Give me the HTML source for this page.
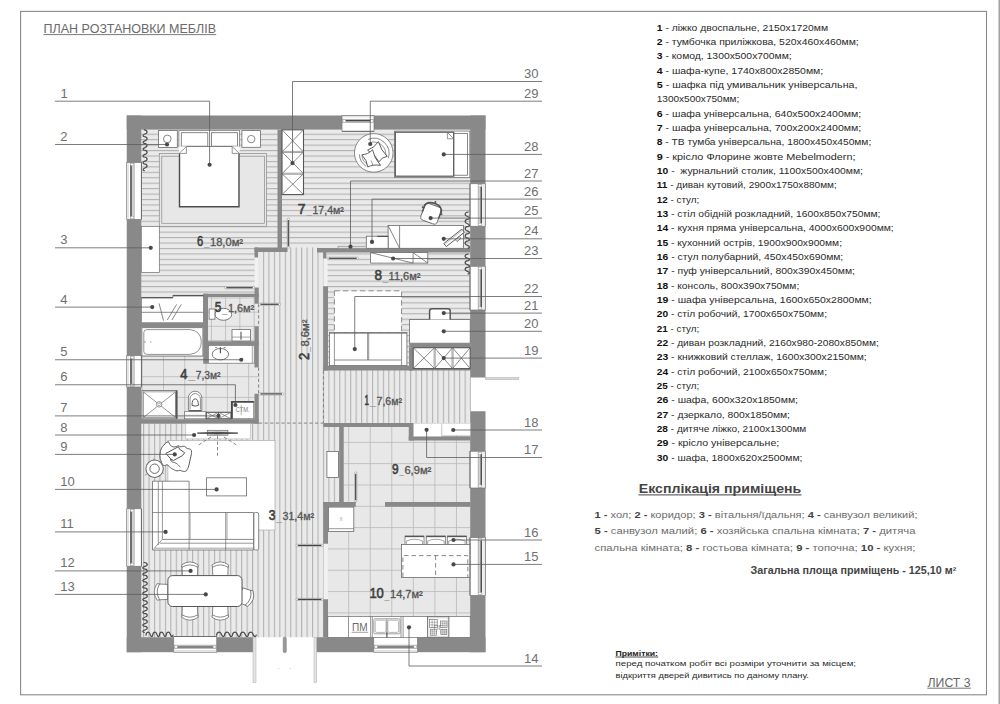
<!DOCTYPE html>
<html lang="uk"><head><meta charset="utf-8"><title>План розтановки меблів</title>
<style>
html,body{margin:0;padding:0;background:#fff;}
body{width:1000px;height:704px;overflow:hidden;position:relative;}
svg{position:absolute;left:0;top:0;display:block;}
svg text{font-family:"Liberation Sans","DejaVu Sans",sans-serif;}
</style></head><body>
<svg width="1000" height="704" viewBox="0 0 1000 704">
<rect width="1000" height="704" fill="#fff"/>
<rect x="998.5" y="0" width="1.5" height="704" fill="#a2a2a2"/>
<rect x="20.6" y="11.4" width="965.9" height="683.4" fill="none" stroke="#8a8a8a" stroke-width="1.1"/>
<defs>
<pattern id="hh" patternUnits="userSpaceOnUse" width="20" height="5.44" patternTransform="translate(0 133.7)"><rect width="20" height="5.44" fill="#eaeaea"/><rect y="0" width="20" height="1.1" fill="#b2b2b2"/></pattern>
<pattern id="hv" patternUnits="userSpaceOnUse" width="5.45" height="20" patternTransform="translate(257.5 0)"><rect width="5.45" height="20" fill="#eaeaea"/><rect x="0" width="1.1" height="20" fill="#b2b2b2"/></pattern>
<pattern id="tk" patternUnits="userSpaceOnUse" width="21.55" height="21.32" patternTransform="translate(348.2 441.85)"><rect width="21.55" height="21.32" fill="#e8e8e8"/><rect width="0.8" height="21.32" fill="#b9b9b9"/><rect width="21.55" height="0.8" fill="#b9b9b9"/></pattern>
<pattern id="tb" patternUnits="userSpaceOnUse" width="21.3" height="20.7" patternTransform="translate(163 376.2)"><rect width="21.3" height="20.7" fill="#e8e8e8"/><rect width="0.8" height="20.7" fill="#b9b9b9"/><rect width="21.3" height="0.8" fill="#b9b9b9"/></pattern>
<pattern id="t5" patternUnits="userSpaceOnUse" width="14.25" height="14.15" patternTransform="translate(210.9 297.5)"><rect width="14.25" height="14.15" fill="#e8e8e8"/><rect width="0.8" height="14.15" fill="#b9b9b9"/><rect width="14.25" height="0.8" fill="#b9b9b9"/></pattern>
</defs>
<path d="M141 129 L278 129 L278 248 L255 248 L255 294 L203.5 294 L203.5 298 L141 298 Z" fill="url(#hh)"/>
<rect x="282" y="129" width="189" height="119.5" fill="url(#hh)"/>
<rect x="327" y="252" width="144" height="114" fill="url(#hh)"/>
<path d="M258.5 250 L287 250 L287 247.5 L317.5 247.5 L317.5 252 L324 252 L324 370 L470.3 370 L470.3 423.5 L324 423.5 L324 427 L340 427 L340 502.5 L324 502.5 L324 637.2 L141 637.2 L141 423.5 L258.5 423.5 Z" fill="url(#hv)"/>
<rect x="141" y="325" width="114" height="95" fill="url(#tb)"/>
<rect x="254" y="303.5" width="4.6" height="23" fill="url(#t5)"/>
<rect x="254" y="367.3" width="4.6" height="26.7" fill="url(#tb)"/>
<rect x="207.5" y="296.5" width="47.5" height="45.5" fill="url(#t5)"/>
<rect x="343.5" y="426.5" width="127.5" height="80.5" fill="url(#tk)"/>
<rect x="327.5" y="506" width="143.5" height="131.2" fill="url(#tk)"/>
<rect x="254.6" y="257.5" width="4" height="30.1" fill="#f1f1f1"/>
<rect x="323.4" y="258.3" width="4.2" height="28.1" fill="#f1f1f1"/>
<rect x="323.6" y="543.7" width="4.2" height="55.7" fill="#f1f1f1"/>
<line x1="258.6" y1="304" x2="258.6" y2="326.2" stroke="#777" stroke-width="0.9" stroke-dasharray="3.2 2.4"/>
<line x1="258.6" y1="367.6" x2="258.6" y2="393.6" stroke="#777" stroke-width="0.9" stroke-dasharray="3.2 2.4"/>
<line x1="323.4" y1="370.6" x2="323.4" y2="422.8" stroke="#7a7a7a" stroke-width="0.9" stroke-dasharray="3.2 2.4"/>
<line x1="259" y1="423.1" x2="323.2" y2="423.1" stroke="#7a7a7a" stroke-width="0.9" stroke-dasharray="3.2 2.4"/>
<rect x="126.75" y="115.5" width="358.75" height="14" fill="#898989"/>
<rect x="126.75" y="115.5" width="14.5" height="536.7" fill="#898989"/>
<rect x="470.2" y="115.5" width="15.3" height="262" fill="#898989"/>
<rect x="470.2" y="411.25" width="15.3" height="240.95" fill="#898989"/>
<rect x="126.75" y="637.2" width="126.25" height="15" fill="#898989"/>
<rect x="316.25" y="637.2" width="169.25" height="15" fill="#898989"/>
<rect x="277.5" y="129.5" width="4.5" height="122.5" fill="#898989"/>
<rect x="254.5" y="247.5" width="33" height="4.5" fill="#898989"/>
<rect x="254.5" y="247.5" width="3.5" height="10" fill="#898989"/>
<rect x="317" y="248" width="153.5" height="4.5" fill="#898989"/>
<rect x="323.25" y="248" width="3.25" height="10.5" fill="#898989"/>
<rect x="323.25" y="286.25" width="4.75" height="84.25" fill="#898989"/>
<rect x="323.25" y="365.75" width="89.75" height="4.75" fill="#898989"/>
<rect x="409" y="347.5" width="4" height="23" fill="#898989"/>
<rect x="409" y="369" width="61.5" height="1.5" fill="#898989"/>
<rect x="203.25" y="293.75" width="55.5" height="3.25" fill="#898989"/>
<rect x="203.25" y="293.75" width="4.75" height="70" fill="#898989"/>
<rect x="208" y="341.25" width="50.75" height="3.75" fill="#898989"/>
<rect x="254.5" y="287.5" width="4.25" height="16.25" fill="#898989"/>
<rect x="254.5" y="326.25" width="4.25" height="41.25" fill="#898989"/>
<rect x="141" y="322.5" width="62.5" height="3" fill="#898989"/>
<rect x="141" y="419.25" width="117.75" height="4.5" fill="#898989"/>
<rect x="254.5" y="393.75" width="4.25" height="30" fill="#898989"/>
<rect x="323.25" y="423" width="90.5" height="4" fill="#898989"/>
<rect x="408.75" y="423" width="5" height="17.5" fill="#898989"/>
<rect x="408.75" y="436.25" width="61.75" height="4.25" fill="#898989"/>
<rect x="339.25" y="427" width="4.5" height="75.5" fill="#898989"/>
<rect x="323.25" y="502" width="32.5" height="4.75" fill="#898989"/>
<rect x="385" y="502" width="85.5" height="4.75" fill="#898989"/>
<rect x="323.25" y="502" width="4.75" height="41.75" fill="#898989"/>
<rect x="323.25" y="599.25" width="4.75" height="38.25" fill="#898989"/>
<rect x="342" y="115.5" width="32" height="15.8" fill="#fff" stroke="#777" stroke-width="0.7"/>
<line x1="342" y1="116.9" x2="374" y2="116.9" stroke="#bbb" stroke-width="0.6"/>
<line x1="342" y1="131.3" x2="374" y2="131.3" stroke="#686868" stroke-width="0.9"/>
<rect x="342.7" y="119.4" width="30.6" height="3.2" fill="#d2d2d2" stroke="#8a8a8a" stroke-width="0.5"/>
<line x1="344.6" y1="120.7" x2="371.4" y2="120.7" stroke="#383838" stroke-width="1.2"/>
<rect x="343" y="119.7" width="2.6" height="2.6" fill="#fff" stroke="#999" stroke-width="0.4"/>
<rect x="370.4" y="119.7" width="2.6" height="2.6" fill="#fff" stroke="#999" stroke-width="0.4"/>
<rect x="126.75" y="162.5" width="14.65" height="57" fill="#fff" stroke="#777" stroke-width="0.7"/>
<line x1="128.15" y1="162.5" x2="128.15" y2="219.5" stroke="#bbb" stroke-width="0.6"/>
<line x1="141.4" y1="162.5" x2="141.4" y2="219.5" stroke="#686868" stroke-width="0.9"/>
<rect x="130.35" y="163.2" width="3.8" height="55.6" fill="#d2d2d2" stroke="#8a8a8a" stroke-width="0.5"/>
<line x1="131.05" y1="165.1" x2="131.05" y2="216.9" stroke="#383838" stroke-width="1.2"/>
<rect x="130.65" y="163.5" width="3.2" height="2" fill="#fff" stroke="#999" stroke-width="0.4"/>
<rect x="130.65" y="216.5" width="3.2" height="2" fill="#fff" stroke="#999" stroke-width="0.4"/>
<rect x="126.75" y="355.5" width="14.65" height="31.5" fill="#fff" stroke="#777" stroke-width="0.7"/>
<line x1="128.15" y1="355.5" x2="128.15" y2="387" stroke="#bbb" stroke-width="0.6"/>
<line x1="141.4" y1="355.5" x2="141.4" y2="387" stroke="#686868" stroke-width="0.9"/>
<rect x="130.35" y="356.2" width="3.8" height="30.1" fill="#d2d2d2" stroke="#8a8a8a" stroke-width="0.5"/>
<line x1="131.05" y1="358.1" x2="131.05" y2="384.4" stroke="#383838" stroke-width="1.2"/>
<rect x="130.65" y="356.5" width="3.2" height="2" fill="#fff" stroke="#999" stroke-width="0.4"/>
<rect x="130.65" y="384" width="3.2" height="2" fill="#fff" stroke="#999" stroke-width="0.4"/>
<rect x="126.75" y="508.75" width="14.65" height="57.5" fill="#fff" stroke="#777" stroke-width="0.7"/>
<line x1="128.15" y1="508.75" x2="128.15" y2="566.25" stroke="#bbb" stroke-width="0.6"/>
<line x1="141.4" y1="508.75" x2="141.4" y2="566.25" stroke="#686868" stroke-width="0.9"/>
<rect x="130.35" y="509.45" width="3.8" height="56.1" fill="#d2d2d2" stroke="#8a8a8a" stroke-width="0.5"/>
<line x1="131.05" y1="511.35" x2="131.05" y2="563.65" stroke="#383838" stroke-width="1.2"/>
<rect x="130.65" y="509.75" width="3.2" height="2" fill="#fff" stroke="#999" stroke-width="0.4"/>
<rect x="130.65" y="563.25" width="3.2" height="2" fill="#fff" stroke="#999" stroke-width="0.4"/>
<rect x="470" y="183.75" width="15.5" height="42.5" fill="#fff" stroke="#777" stroke-width="0.7"/>
<line x1="484.1" y1="183.75" x2="484.1" y2="226.25" stroke="#bbb" stroke-width="0.6"/>
<line x1="470" y1="183.75" x2="470" y2="226.25" stroke="#686868" stroke-width="0.9"/>
<rect x="478.1" y="184.45" width="3.8" height="41.1" fill="#d2d2d2" stroke="#8a8a8a" stroke-width="0.5"/>
<line x1="481.2" y1="186.35" x2="481.2" y2="223.65" stroke="#383838" stroke-width="1.2"/>
<rect x="478.4" y="184.75" width="3.2" height="2" fill="#fff" stroke="#999" stroke-width="0.4"/>
<rect x="478.4" y="223.25" width="3.2" height="2" fill="#fff" stroke="#999" stroke-width="0.4"/>
<rect x="470" y="266.25" width="15.5" height="43.75" fill="#fff" stroke="#777" stroke-width="0.7"/>
<line x1="484.1" y1="266.25" x2="484.1" y2="310" stroke="#bbb" stroke-width="0.6"/>
<line x1="470" y1="266.25" x2="470" y2="310" stroke="#686868" stroke-width="0.9"/>
<rect x="478.1" y="266.95" width="3.8" height="42.35" fill="#d2d2d2" stroke="#8a8a8a" stroke-width="0.5"/>
<line x1="481.2" y1="268.85" x2="481.2" y2="307.4" stroke="#383838" stroke-width="1.2"/>
<rect x="478.4" y="267.25" width="3.2" height="2" fill="#fff" stroke="#999" stroke-width="0.4"/>
<rect x="478.4" y="307" width="3.2" height="2" fill="#fff" stroke="#999" stroke-width="0.4"/>
<rect x="470" y="451.25" width="15.5" height="36.75" fill="#fff" stroke="#777" stroke-width="0.7"/>
<line x1="484.1" y1="451.25" x2="484.1" y2="488" stroke="#bbb" stroke-width="0.6"/>
<line x1="470" y1="451.25" x2="470" y2="488" stroke="#686868" stroke-width="0.9"/>
<rect x="478.1" y="451.95" width="3.8" height="35.35" fill="#d2d2d2" stroke="#8a8a8a" stroke-width="0.5"/>
<line x1="481.2" y1="453.85" x2="481.2" y2="485.4" stroke="#383838" stroke-width="1.2"/>
<rect x="478.4" y="452.25" width="3.2" height="2" fill="#fff" stroke="#999" stroke-width="0.4"/>
<rect x="478.4" y="485" width="3.2" height="2" fill="#fff" stroke="#999" stroke-width="0.4"/>
<rect x="470" y="537.5" width="15.5" height="58" fill="#fff" stroke="#777" stroke-width="0.7"/>
<line x1="484.1" y1="537.5" x2="484.1" y2="595.5" stroke="#bbb" stroke-width="0.6"/>
<line x1="470" y1="537.5" x2="470" y2="595.5" stroke="#686868" stroke-width="0.9"/>
<rect x="478.1" y="538.2" width="3.8" height="56.6" fill="#d2d2d2" stroke="#8a8a8a" stroke-width="0.5"/>
<line x1="481.2" y1="540.1" x2="481.2" y2="592.9" stroke="#383838" stroke-width="1.2"/>
<rect x="478.4" y="538.5" width="3.2" height="2" fill="#fff" stroke="#999" stroke-width="0.4"/>
<rect x="478.4" y="592.5" width="3.2" height="2" fill="#fff" stroke="#999" stroke-width="0.4"/>
<rect x="173.75" y="636.5" width="43" height="15.7" fill="#fff" stroke="#777" stroke-width="0.7"/>
<line x1="173.75" y1="650.8" x2="216.75" y2="650.8" stroke="#bbb" stroke-width="0.6"/>
<line x1="173.75" y1="636.5" x2="216.75" y2="636.5" stroke="#686868" stroke-width="0.9"/>
<rect x="174.45" y="645.1" width="41.6" height="3.2" fill="#d2d2d2" stroke="#8a8a8a" stroke-width="0.5"/>
<line x1="176.35" y1="647" x2="214.15" y2="647" stroke="#383838" stroke-width="1.2"/>
<rect x="174.75" y="645.4" width="2.6" height="2.6" fill="#fff" stroke="#999" stroke-width="0.4"/>
<rect x="213.15" y="645.4" width="2.6" height="2.6" fill="#fff" stroke="#999" stroke-width="0.4"/>
<rect x="373.75" y="636.5" width="43.75" height="15.7" fill="#fff" stroke="#777" stroke-width="0.7"/>
<line x1="373.75" y1="650.8" x2="417.5" y2="650.8" stroke="#bbb" stroke-width="0.6"/>
<line x1="373.75" y1="636.5" x2="417.5" y2="636.5" stroke="#686868" stroke-width="0.9"/>
<rect x="374.45" y="645.1" width="42.35" height="3.2" fill="#d2d2d2" stroke="#8a8a8a" stroke-width="0.5"/>
<line x1="376.35" y1="647" x2="414.9" y2="647" stroke="#383838" stroke-width="1.2"/>
<rect x="374.75" y="645.4" width="2.6" height="2.6" fill="#fff" stroke="#999" stroke-width="0.4"/>
<rect x="413.9" y="645.4" width="2.6" height="2.6" fill="#fff" stroke="#999" stroke-width="0.4"/>
<rect x="253" y="637.2" width="3" height="45.3" fill="#e4e4e4" stroke="#aaa" stroke-width="0.5"/>
<rect x="314" y="637.2" width="2.6" height="45.3" fill="#e4e4e4" stroke="#aaa" stroke-width="0.5"/>
<rect x="283.2" y="637.2" width="3.1" height="15.4" fill="#999" stroke="#777" stroke-width="0.5" rx="1.2"/>
<circle cx="278.75" cy="668.4" r="0.5" fill="#bbb"/>
<circle cx="290.4" cy="668.4" r="0.5" fill="#bbb"/>
<rect x="485.4" y="377.6" width="33.4" height="2" fill="#d8d8d8" stroke="#aaa" stroke-width="0.5"/>
<line x1="470.3" y1="377.5" x2="470.3" y2="411.3" stroke="#999" stroke-width="0.6"/>
<rect x="159.3" y="153.4" width="107.3" height="72.9" fill="#e7e7e7" stroke="#8a8a8a" stroke-width="0.7"/>
<rect x="161.8" y="156.2" width="102.8" height="67.1" fill="#e7e7e7" stroke="#8a8a8a" stroke-width="0.7"/>
<rect x="158.4" y="130.6" width="18.9" height="16.8" fill="#fff" stroke="#6a6a6a" stroke-width="0.8"/>
<circle cx="167.3" cy="138.9" r="3.8" fill="#fff" stroke="#6a6a6a" stroke-width="0.8"/>
<rect x="241.9" y="130.6" width="18.5" height="16.7" fill="#fff" stroke="#6a6a6a" stroke-width="0.8"/>
<circle cx="251.2" cy="139.1" r="3.7" fill="#fff" stroke="#6a6a6a" stroke-width="0.8"/>
<rect x="178.9" y="130.4" width="60.7" height="16.6" fill="#fff" stroke="#6a6a6a" stroke-width="0.7"/>
<rect x="181.3" y="132.7" width="26.5" height="13.5" fill="#fff" stroke="#6a6a6a" stroke-width="0.8"/>
<rect x="211.4" y="132.7" width="26.1" height="13.5" fill="#fff" stroke="#6a6a6a" stroke-width="0.8"/>
<rect x="178.9" y="146.4" width="60.7" height="61" fill="#fff"/>
<line x1="186.4" y1="146.5" x2="232.2" y2="146.5" stroke="#6a6a6a" stroke-width="0.8"/>
<path d="M179.5 153.4 L179.5 206.8 L239 206.8 L239 153.4" fill="none" stroke="#4a4a4a" stroke-width="1.4"/>
<path d="M178.9 153.4 L186.4 153.4 L186.4 146.6" fill="#fff" stroke="#6a6a6a" stroke-width="0.7"/>
<line x1="179.3" y1="153.2" x2="186.2" y2="146.8" stroke="#6a6a6a" stroke-width="0.7"/>
<path d="M239.6 153.4 L232.2 153.4 L232.2 146.6" fill="#fff" stroke="#6a6a6a" stroke-width="0.7"/>
<line x1="239.3" y1="153.2" x2="232.4" y2="146.8" stroke="#6a6a6a" stroke-width="0.7"/>
<rect x="141.3" y="226.3" width="18" height="46.3" fill="#fff" stroke="#6a6a6a" stroke-width="0.7"/>
<path d="M144.26 129.8 C146.29 129.94 147.1 130.48 147.1 132.25 C147.1 134.02 143.59 133.88 143.14 135.1 C142.87 135.92 143.36 136.46 144.26 136.6 C146.29 136.74 147.1 137.28 147.1 139.05 C147.1 140.82 143.59 140.68 143.14 141.9 C142.87 142.72 143.36 143.26 144.26 143.4 C146.29 143.54 147.1 144.08 147.1 145.85 C147.1 147.62 143.59 147.48 143.14 148.7 C142.87 149.52 143.36 150.06 144.26 150.2 C146.29 150.34 147.1 150.88 147.1 152.65 C147.1 154.42 143.59 154.28 143.14 155.5 C142.87 156.32 143.36 156.86 144.26 157 C146.29 157.14 147.1 157.68 147.1 159.45 C147.1 161.22 143.59 161.08 143.14 162.3 C142.87 163.12 143.36 163.66 144.26 163.8 C146.29 163.94 147.1 164.48 147.1 166.25 C147.1 168.02 143.59 167.88 143.14 169.1 C142.87 169.92 143.36 170.46 144.26 170.6" fill="none" stroke="#4c4c4c" stroke-width="1.25" stroke-linecap="round" stroke-linejoin="round"/>
<rect x="282" y="129.8" width="21.5" height="64.8" fill="#fff" stroke="#555" stroke-width="1.1"/>
<line x1="282" y1="129.8" x2="303.5" y2="151.9" stroke="#6a6a6a" stroke-width="0.8"/>
<line x1="282" y1="151.9" x2="303.5" y2="129.8" stroke="#6a6a6a" stroke-width="0.8"/>
<line x1="282" y1="151.9" x2="303.5" y2="173.7" stroke="#6a6a6a" stroke-width="0.8"/>
<line x1="282" y1="173.7" x2="303.5" y2="151.9" stroke="#6a6a6a" stroke-width="0.8"/>
<line x1="282" y1="173.7" x2="303.5" y2="194.6" stroke="#6a6a6a" stroke-width="0.8"/>
<line x1="282" y1="194.6" x2="303.5" y2="173.7" stroke="#6a6a6a" stroke-width="0.8"/>
<line x1="282" y1="151.4" x2="303.5" y2="151.4" stroke="#6a6a6a" stroke-width="0.6"/>
<line x1="282" y1="152.5" x2="303.5" y2="152.5" stroke="#6a6a6a" stroke-width="0.6"/>
<line x1="282" y1="173.2" x2="303.5" y2="173.2" stroke="#6a6a6a" stroke-width="0.6"/>
<line x1="282" y1="174.3" x2="303.5" y2="174.3" stroke="#6a6a6a" stroke-width="0.6"/>
<rect x="224.5" y="286.6" width="30" height="2.2" fill="#fff" stroke="#888" stroke-width="0.5" rx="1"/>
<line x1="226.3" y1="287.7" x2="252.7" y2="287.7" stroke="#444" stroke-width="1.2"/>
<rect x="287.2" y="218.1" width="2.2" height="30.1" fill="#fff" stroke="#888" stroke-width="0.5" rx="1"/>
<line x1="288.3" y1="219.9" x2="288.3" y2="246.4" stroke="#444" stroke-width="1.2"/>
<rect x="326.9" y="257.2" width="31.6" height="2.2" fill="#fff" stroke="#888" stroke-width="0.5" rx="1"/>
<line x1="328.7" y1="258.3" x2="356.7" y2="258.3" stroke="#444" stroke-width="1.2"/>
<rect x="258.7" y="303.2" width="21.8" height="2.2" fill="#fff" stroke="#888" stroke-width="0.5" rx="1"/>
<line x1="260.5" y1="304.3" x2="278.7" y2="304.3" stroke="#444" stroke-width="1.2"/>
<rect x="258.7" y="392.8" width="25.1" height="2.2" fill="#fff" stroke="#888" stroke-width="0.5" rx="1"/>
<line x1="260.5" y1="393.9" x2="282" y2="393.9" stroke="#444" stroke-width="1.2"/>
<circle cx="373.75" cy="152.9" r="19.3" fill="#fff" stroke="#6a6a6a" stroke-width="0.8"/>
<path d="M368.1 139.4 A15.2 15.2 0 0 1 388.3 158.2" fill="none" stroke="#6a6a6a" stroke-width="0.8"/>
<path d="M370 142.6 A12 12 0 0 1 385.6 156" fill="none" stroke="#6a6a6a" stroke-width="0.7"/>
<path d="M359.4 154.4 A15 15 0 0 0 366.2 166.4" fill="none" stroke="#6a6a6a" stroke-width="0.8"/>
<path d="M361.9 155.6 A12 12 0 0 0 367.6 164.6" fill="none" stroke="#6a6a6a" stroke-width="0.7"/>
<path d="M378.4 141.6 Q380.87 150.38 387.2 156.3 Q381.64 157.15 379 161.8 Q375.23 154.57 367.6 150.2 Q374.46 147.8 378.4 141.6 Z" fill="#fff" stroke="#555" stroke-width="0.95" stroke-linejoin="round"/>
<path d="M372.5 149.8 Q374.24 158.25 380.6 165.4 Q373.11 164.06 367.8 167 Q367.11 160.25 361.8 154.8 Q368.24 154.44 372.5 149.8 Z" fill="#fff" stroke="#555" stroke-width="0.95" stroke-linejoin="round"/>
<path d="M371 160.5 Q372.5 163.5 373 165.8" fill="none" stroke="#555" stroke-width="0.6"/>
<rect x="394.5" y="131.1" width="75.3" height="46.5" fill="#fff" stroke="#6a6a6a" stroke-width="0.7"/>
<rect x="453.7" y="133.5" width="13.8" height="41.7" fill="#fff" stroke="#6a6a6a" stroke-width="0.8"/>
<rect x="395.3" y="132.2" width="58.4" height="44" fill="#fff" stroke="#555" stroke-width="1.2"/>
<path d="M447.4 132.4 L447.4 138.8 L453.6 138.8" fill="#fff" stroke="#6a6a6a" stroke-width="0.7"/>
<line x1="447.6" y1="132.6" x2="453.5" y2="138.6" stroke="#6a6a6a" stroke-width="0.7"/>
<g transform="rotate(20 431 213.5)">
<rect x="422.4" y="204.8" width="17.4" height="17.8" fill="#fff" stroke="#6a6a6a" stroke-width="0.9" rx="3.6"/>
<path d="M422.2 209.5 Q422 203.2 431 202.6 Q440.2 203.2 440 209.5" fill="none" stroke="#555" stroke-width="1.7" stroke-linecap="round"/>
<path d="M422.3 207 L422.3 214.5" fill="none" stroke="#555" stroke-width="1.5" stroke-linecap="round"/>
<path d="M439.9 207 L439.9 214.5" fill="none" stroke="#555" stroke-width="1.5" stroke-linecap="round"/>
<circle cx="431.2" cy="201.2" r="1" fill="#555"/>
<circle cx="441.2" cy="210.5" r="0.9" fill="#555"/>
<circle cx="421" cy="210.5" r="0.9" fill="#555"/>
</g>
<rect x="388.1" y="225.5" width="75.4" height="22.8" fill="#fff" stroke="#6a6a6a" stroke-width="0.8"/>
<line x1="399.6" y1="225.5" x2="399.6" y2="248.3" stroke="#6a6a6a" stroke-width="0.8"/>
<line x1="388.1" y1="225.5" x2="399.6" y2="248.3" stroke="#6a6a6a" stroke-width="0.8"/>
<g transform="rotate(-38.5 454 237.8)">
<rect x="442.5" y="235.9" width="23" height="4" fill="#fff" stroke="#555" stroke-width="0.9"/>
<line x1="443.5" y1="237.2" x2="464.5" y2="237.2" stroke="#888" stroke-width="0.5"/>
<rect x="454" y="240.2" width="5" height="2.4" fill="#fff" stroke="#555" stroke-width="0.7"/>
</g>
<rect x="366.3" y="236.2" width="21.8" height="12.1" fill="#fff" stroke="#6a6a6a" stroke-width="0.8"/>
<line x1="377.3" y1="236.4" x2="388" y2="236.4" stroke="#555" stroke-width="1.2"/>
<rect x="338.1" y="246.2" width="28.2" height="2.2" fill="#ddd" stroke="#888" stroke-width="0.6"/>
<path d="M468.12 212 C465.96 212.14 465.1 212.72 465.1 214.61 C465.1 216.49 468.84 216.34 469.32 217.65 C469.61 218.52 469.08 219.1 468.12 219.24 C465.96 219.38 465.1 219.96 465.1 221.85 C465.1 223.73 468.84 223.58 469.32 224.89 C469.61 225.76 469.08 226.34 468.12 226.48 C465.96 226.62 465.1 227.2 465.1 229.09 C465.1 230.97 468.84 230.82 469.32 232.13 C469.61 233 469.08 233.58 468.12 233.72 C465.96 233.86 465.1 234.44 465.1 236.33 C465.1 238.21 468.84 238.06 469.32 239.37 C469.61 240.24 469.08 240.82 468.12 240.96 C465.96 241.1 465.1 241.68 465.1 243.57 C465.1 245.45 468.84 245.3 469.32 246.61 C469.61 247.48 469.08 248.06 468.12 248.2" fill="none" stroke="#4c4c4c" stroke-width="1.25" stroke-linecap="round" stroke-linejoin="round"/>
<path d="M468.12 254 C465.96 254.13 465.1 254.66 465.1 256.38 C465.1 258.09 468.84 257.96 469.32 259.15 C469.61 259.94 469.08 260.47 468.12 260.6 C465.96 260.73 465.1 261.26 465.1 262.98 C465.1 264.69 468.84 264.56 469.32 265.75 C469.61 266.54 469.08 267.07 468.12 267.2 C465.96 267.33 465.1 267.86 465.1 269.58 C465.1 271.29 468.84 271.16 469.32 272.35 C469.61 273.14 469.08 273.67 468.12 273.8" fill="none" stroke="#4c4c4c" stroke-width="1.25" stroke-linecap="round" stroke-linejoin="round"/>
<rect x="370.6" y="252.6" width="57.2" height="10.5" fill="#fff" stroke="#6a6a6a" stroke-width="0.8"/>
<line x1="413.1" y1="252.6" x2="413.1" y2="263.1" stroke="#6a6a6a" stroke-width="0.8"/>
<line x1="370.6" y1="252.6" x2="413.1" y2="263.1" stroke="#6a6a6a" stroke-width="0.8"/>
<line x1="413.1" y1="252.6" x2="427.8" y2="263.1" stroke="#6a6a6a" stroke-width="0.8"/>
<rect x="334.4" y="290.8" width="67.2" height="41.7" fill="#fff" stroke="#8a8a8a" stroke-width="1" stroke-dasharray="5.5 3"/>
<rect x="329.4" y="332.5" width="77.5" height="33.1" fill="#fff" stroke="#6a6a6a" stroke-width="0.8"/>
<line x1="334.4" y1="332.5" x2="334.4" y2="365.6" stroke="#6a6a6a" stroke-width="0.7"/>
<line x1="401.6" y1="332.5" x2="401.6" y2="365.6" stroke="#6a6a6a" stroke-width="0.7"/>
<line x1="367.6" y1="332.5" x2="367.6" y2="360" stroke="#6a6a6a" stroke-width="0.7"/>
<line x1="368.7" y1="332.5" x2="368.7" y2="360" stroke="#6a6a6a" stroke-width="0.7"/>
<line x1="334.4" y1="360" x2="401.6" y2="360" stroke="#6a6a6a" stroke-width="0.8"/>
<line x1="329.4" y1="333.5" x2="406.9" y2="333.5" stroke="#6a6a6a" stroke-width="0.6"/>
<rect x="409.4" y="319.6" width="60.8" height="23.6" fill="#fff" stroke="#6a6a6a" stroke-width="0.8"/>
<rect x="409.2" y="343.2" width="61.1" height="4.4" fill="#898989"/>
<path d="M429.6 319.6 L429.6 311 Q429.6 308.7 432 308.7 L447.8 308.7 Q450.2 308.7 450.2 311 L450.2 319.6" fill="#fff" stroke="#555" stroke-width="1.5"/>
<rect x="413.2" y="347.7" width="57" height="20.9" fill="#fff" stroke="#555" stroke-width="1.1"/>
<line x1="413.2" y1="347.7" x2="434.6" y2="368.6" stroke="#6a6a6a" stroke-width="0.8"/>
<line x1="413.2" y1="368.6" x2="434.6" y2="347.7" stroke="#6a6a6a" stroke-width="0.8"/>
<line x1="434.6" y1="347.7" x2="452.5" y2="368.6" stroke="#6a6a6a" stroke-width="0.8"/>
<line x1="434.6" y1="368.6" x2="452.5" y2="347.7" stroke="#6a6a6a" stroke-width="0.8"/>
<line x1="452.5" y1="347.7" x2="470.2" y2="368.6" stroke="#6a6a6a" stroke-width="0.8"/>
<line x1="452.5" y1="368.6" x2="470.2" y2="347.7" stroke="#6a6a6a" stroke-width="0.8"/>
<line x1="434.1" y1="347.7" x2="434.1" y2="368.6" stroke="#6a6a6a" stroke-width="0.6"/>
<line x1="435.2" y1="347.7" x2="435.2" y2="368.6" stroke="#6a6a6a" stroke-width="0.6"/>
<line x1="452" y1="347.7" x2="452" y2="368.6" stroke="#6a6a6a" stroke-width="0.6"/>
<line x1="453.1" y1="347.7" x2="453.1" y2="368.6" stroke="#6a6a6a" stroke-width="0.6"/>
<path d="M141.5 297.7 L172.9 297.7 L172.9 295.6 L203.5 295.6 L203.5 322.7 L141.5 322.7 Z" fill="#fff" stroke="#6a6a6a" stroke-width="0.7"/>
<line x1="141.5" y1="297.7" x2="172.9" y2="297.7" stroke="#555" stroke-width="1.2"/>
<line x1="172.9" y1="295.6" x2="203.5" y2="295.6" stroke="#555" stroke-width="1.4"/>
<line x1="141.5" y1="312.3" x2="203.5" y2="312.3" stroke="#6a6a6a" stroke-width="0.8"/>
<line x1="159.1" y1="303.5" x2="163.5" y2="320.6" stroke="#6a6a6a" stroke-width="0.8"/>
<line x1="176.6" y1="304.4" x2="167.3" y2="320" stroke="#6a6a6a" stroke-width="0.8"/>
<line x1="181.3" y1="304.4" x2="171.9" y2="320" stroke="#6a6a6a" stroke-width="0.8"/>
<rect x="141" y="323" width="67" height="4.3" fill="#898989"/>
<rect x="141.9" y="327.7" width="61" height="28.3" fill="#fff" stroke="#6a6a6a" stroke-width="0.8"/>
<path d="M146.8 329.6 L190 329.6 Q201.3 331 201.3 342 Q201.3 353 190 354.4 L146.8 354.4 Q143.8 354.4 143.8 351.4 L143.8 332.6 Q143.8 329.6 146.8 329.6 Z" fill="#fff" stroke="#888" stroke-width="0.9"/>
<line x1="144.2" y1="341.9" x2="145.6" y2="341.9" stroke="#777" stroke-width="1"/>
<circle cx="150.8" cy="341.9" r="0.6" fill="#888"/>
<rect x="209.1" y="309" width="5.9" height="10.2" fill="#fff" stroke="#6a6a6a" stroke-width="0.8"/>
<ellipse cx="223.4" cy="314.3" rx="8.3" ry="6" fill="#fff" stroke="#6a6a6a" stroke-width="0.9"/>
<rect x="232" y="329.6" width="18.4" height="11.4" fill="#fff" stroke="#6a6a6a" stroke-width="0.8"/>
<line x1="232" y1="337.1" x2="250.4" y2="337.1" stroke="#6a6a6a" stroke-width="0.6"/>
<line x1="241" y1="331.8" x2="241" y2="339.8" stroke="#555" stroke-width="1.1"/>
<rect x="208.5" y="345.6" width="45.7" height="17.6" fill="#fff" stroke="#6a6a6a" stroke-width="0.7"/>
<ellipse cx="220.4" cy="354.2" rx="8.2" ry="5.7" fill="#fff" stroke="#6a6a6a" stroke-width="0.9"/>
<line x1="220.4" y1="347.3" x2="220.4" y2="353.2" stroke="#555" stroke-width="1.2"/>
<line x1="215.2" y1="347.6" x2="217.2" y2="347.6" stroke="#6a6a6a" stroke-width="0.8"/>
<line x1="223.6" y1="347.6" x2="225.6" y2="347.6" stroke="#6a6a6a" stroke-width="0.8"/>
<line x1="252.3" y1="346" x2="252.3" y2="363" stroke="#6a6a6a" stroke-width="0.6"/>
<rect x="142" y="390.6" width="35.2" height="28.2" fill="#fff" stroke="#6a6a6a" stroke-width="0.8"/>
<rect x="143.3" y="391.9" width="32.3" height="25.6" fill="#fff" stroke="#6a6a6a" stroke-width="0.6"/>
<line x1="176.4" y1="390.6" x2="176.4" y2="418.8" stroke="#555" stroke-width="1.5"/>
<line x1="143.3" y1="391.9" x2="175.6" y2="417.5" stroke="#6a6a6a" stroke-width="0.7"/>
<line x1="143.3" y1="417.5" x2="175.6" y2="391.9" stroke="#6a6a6a" stroke-width="0.7"/>
<circle cx="159.1" cy="404.4" r="2.7" fill="#fff" stroke="#6a6a6a" stroke-width="0.7"/>
<circle cx="159.1" cy="404.4" r="1.3" fill="none" stroke="#6a6a6a" stroke-width="0.5"/>
<path d="M188.4 410.6 L188.4 397.9 A6.7 6.7 0 0 1 201.8 397.9 L201.8 410.6 Z" fill="#fff" stroke="#6a6a6a" stroke-width="0.8"/>
<path d="M190 409.6 L190 398.8 A5.2 5.2 0 0 1 200.4 398.8 L200.4 409.6" fill="#fff" stroke="#6a6a6a" stroke-width="0.75"/>
<path d="M192 405.4 Q192 398.9 195.2 398.9 Q198.4 398.9 198.4 405.4 Q195.2 406.8 192 405.4 Z" fill="#fff" stroke="#505050" stroke-width="0.95"/>
<line x1="189.2" y1="410.9" x2="201.2" y2="410.9" stroke="#4a4a4a" stroke-width="1.3"/>
<rect x="184.4" y="411.7" width="21.6" height="7.1" fill="#fff" stroke="#6a6a6a" stroke-width="0.7"/>
<line x1="184.4" y1="415.2" x2="206" y2="415.2" stroke="#aaa" stroke-width="0.6"/>
<rect x="206.3" y="412.3" width="24.7" height="6.5" fill="#fff" stroke="#555" stroke-width="1.1"/>
<line x1="218.5" y1="412.3" x2="218.5" y2="418.8" stroke="#555" stroke-width="0.9"/>
<line x1="206.3" y1="412.3" x2="218.5" y2="418.8" stroke="#6a6a6a" stroke-width="0.7"/>
<line x1="206.3" y1="418.8" x2="218.5" y2="412.3" stroke="#6a6a6a" stroke-width="0.7"/>
<line x1="218.5" y1="412.3" x2="231" y2="418.8" stroke="#6a6a6a" stroke-width="0.7"/>
<line x1="218.5" y1="418.8" x2="231" y2="412.3" stroke="#6a6a6a" stroke-width="0.7"/>
<rect x="231.6" y="401.6" width="22.2" height="17.2" fill="#fff" stroke="#666" stroke-width="0.8"/>
<path d="M231.9 418.8 L231.9 401.9 L253.8 401.9" fill="none" stroke="#484848" stroke-width="1.9"/>
<text x="242.6" y="412" font-size="6.3" fill="#7d7a78" text-anchor="middle" textLength="13.8" lengthAdjust="spacingAndGlyphs">СТМ.</text>
<line x1="241.2" y1="404.8" x2="241.2" y2="415.2" stroke="#8a8a8a" stroke-width="0.6"/>
<rect x="167.9" y="440.4" width="107.1" height="89.6" fill="#fff" stroke="#a0a0a0" stroke-width="0.6"/>
<rect x="185.8" y="423.8" width="64.6" height="15.1" fill="#fff" stroke="#aaa" stroke-width="0.5"/>
<rect x="207.3" y="430.3" width="20.6" height="4.9" fill="#d4d4d4" stroke="#6a6a6a" stroke-width="0.7"/>
<path d="M197.3 433.1 L217.5 432.3 L237.9 433.1 L217.5 433.9 Z" fill="#444" stroke="#444" stroke-width="0.8"/>
<line x1="217.5" y1="435.8" x2="217.5" y2="455.8" stroke="#6a6a6a" stroke-width="0.8" stroke-dasharray="3.4 2.2"/>
<line x1="211" y1="437" x2="198.5" y2="445" stroke="#6a6a6a" stroke-width="0.8" stroke-dasharray="3.4 2.2"/>
<line x1="223.9" y1="437" x2="236.6" y2="445" stroke="#6a6a6a" stroke-width="0.8" stroke-dasharray="3.4 2.2"/>
<path d="M167.7 442 C165.93 442.7 165.93 442.93 163.8 445.2 C161.67 447.47 162.5 446.2 161.3 448.8 C160.1 451.4 160.6 450.17 160.2 453 C159.8 455.83 159.83 454.67 160.1 457.3 C160.37 459.93 160.13 458.53 161 460.9 C161.87 463.27 161.53 462.87 162.7 464.4 C163.87 465.93 163.07 465.37 164.5 465.5 C165.93 465.63 165.7 464.7 167 464.8 C168.3 464.9 167.23 464.87 168.4 465.8 C169.57 466.73 168.83 466.4 170.5 467.6 C172.17 468.8 171.27 468.33 173.4 469.4 C175.53 470.47 174.77 470.47 176.9 470.8 C179.03 471.13 177.9 470.27 179.8 470.4 C181.7 470.53 180.7 470.93 182.6 471.2 C184.5 471.47 183.97 471.8 185.5 471.2 C187.03 470.6 186.13 471.2 187.2 469.4 C188.27 467.6 187.87 468.4 188.7 465.8 C189.53 463.2 189 464.67 189.7 461.6 C190.4 458.53 190.2 459.7 190.8 456.6 C191.4 453.5 191.5 454.57 191.5 452.3 C191.5 450.03 191.63 450.97 190.8 449.8 C189.97 448.63 190.3 449.27 189 448.8 C187.7 448.33 188.07 449 186.9 448.4 C185.73 447.8 186.7 447.7 185.5 447 C184.3 446.3 184.97 446.4 183.3 446.3 C181.63 446.2 182.13 446.83 180.5 446.7 C178.87 446.57 180.07 445.9 178.4 445.9 C176.73 445.9 177.4 446.43 175.5 446.7 C173.6 446.97 174.37 447.2 172.7 446.7 C171.03 446.2 171.7 446.4 170.5 445.2 C169.3 444 170.03 444.17 169.1 443.1 C168.17 442.03 169.47 441.3 167.7 442 Z" fill="#fff" stroke="#505050" stroke-width="1" stroke-linejoin="round"/>
<path d="M165.9 453.4 L178.4 446.7 L179.8 449.5 L184.7 452.7 L182.6 455.5 L173.4 460.5 L170.5 458.7 Z" fill="#fff" stroke="#505050" stroke-width="0.95" stroke-linejoin="round"/>
<path d="M170.5 458.7 C170.87 459.6 169.93 459.97 171.6 461.4 C173.27 462.83 173.23 461.77 175.5 463 C177.77 464.23 176.87 463.67 178.4 465.1 C179.93 466.53 179.53 466.57 180.1 467.3" fill="none" stroke="#505050" stroke-width="0.9"/>
<line x1="170.5" y1="458.7" x2="172.2" y2="460.9" stroke="#505050" stroke-width="0.8"/>
<circle cx="154.6" cy="468.7" r="8.7" fill="#fff" stroke="#686868" stroke-width="1.05"/>
<circle cx="154.6" cy="468.7" r="4.7" fill="#fff" stroke="#686868" stroke-width="1"/>
<line x1="153" y1="458.6" x2="154.5" y2="460.4" stroke="#6a6a6a" stroke-width="0.7"/>
<line x1="145" y1="475.3" x2="147" y2="473.8" stroke="#6a6a6a" stroke-width="0.7"/>
<line x1="164" y1="473.6" x2="162.2" y2="472.6" stroke="#6a6a6a" stroke-width="0.7"/>
<rect x="206.6" y="477.8" width="40" height="18.1" fill="#fff" stroke="#6a6a6a" stroke-width="0.8"/>
<path d="M152.5 481.2 L189.1 481.2 L189.1 512.5 L253.6 512.5 L253.6 550 L152.5 550 Z" fill="#fff" stroke="#6a6a6a" stroke-width="0.8"/>
<rect x="253.9" y="512.5" width="4.8" height="37.5" fill="#fff" stroke="#6a6a6a" stroke-width="0.8" rx="1.6"/>
<line x1="158.3" y1="481.2" x2="158.3" y2="545" stroke="#6a6a6a" stroke-width="0.7"/>
<line x1="162.4" y1="481.2" x2="162.4" y2="539.4" stroke="#6a6a6a" stroke-width="0.7"/>
<line x1="152.5" y1="512.5" x2="189.1" y2="512.5" stroke="#6a6a6a" stroke-width="0.7"/>
<line x1="189.1" y1="512.5" x2="189.1" y2="550" stroke="#6a6a6a" stroke-width="0.7"/>
<line x1="190.1" y1="512.5" x2="190.1" y2="539.4" stroke="#6a6a6a" stroke-width="0.6"/>
<line x1="225.7" y1="512.5" x2="225.7" y2="550" stroke="#6a6a6a" stroke-width="0.7"/>
<line x1="227" y1="512.5" x2="227" y2="539.4" stroke="#6a6a6a" stroke-width="0.6"/>
<line x1="162.4" y1="539.4" x2="253.3" y2="539.4" stroke="#6a6a6a" stroke-width="0.8"/>
<line x1="160" y1="543.2" x2="253.3" y2="543.2" stroke="#6a6a6a" stroke-width="0.7"/>
<line x1="155" y1="548.2" x2="253.3" y2="548.2" stroke="#6a6a6a" stroke-width="0.6"/>
<line x1="162.4" y1="539.4" x2="153.2" y2="549.4" stroke="#6a6a6a" stroke-width="0.7"/>
<path d="M182.4 575.6 L182 566.3 Q189.9 560.8 197.8 566.3 L197.4 575.6 Z" fill="#fff" stroke="#6a6a6a" stroke-width="0.8"/>
<path d="M181.6 564.9 Q189.9 558.9 198.2 564.9 L197.8 567.3 Q189.9 562.5 182 567.3 Z" fill="#fff" stroke="#6a6a6a" stroke-width="0.8"/>
<path d="M212.8 575.6 L212.4 566.3 Q220.3 560.8 228.2 566.3 L227.8 575.6 Z" fill="#fff" stroke="#6a6a6a" stroke-width="0.8"/>
<path d="M212 564.9 Q220.3 558.9 228.6 564.9 L228.2 567.3 Q220.3 562.5 212.4 567.3 Z" fill="#fff" stroke="#6a6a6a" stroke-width="0.8"/>
<path d="M182.4 606.5 L182 615.8 Q189.9 621.3 197.8 615.8 L197.4 606.5 Z" fill="#fff" stroke="#6a6a6a" stroke-width="0.8"/>
<path d="M181.6 617.2 Q189.9 623.2 198.2 617.2 L197.8 614.8 Q189.9 619.6 182 614.8 Z" fill="#fff" stroke="#6a6a6a" stroke-width="0.8"/>
<path d="M212.8 606.5 L212.4 615.8 Q220.3 621.3 228.2 615.8 L227.8 606.5 Z" fill="#fff" stroke="#6a6a6a" stroke-width="0.8"/>
<path d="M212 617.2 Q220.3 623.2 228.6 617.2 L228.2 614.8 Q220.3 619.6 212.4 614.8 Z" fill="#fff" stroke="#6a6a6a" stroke-width="0.8"/>
<g transform="rotate(-90 167.9 591.9)">
<path d="M160.4 591.9 L160 582.6 Q167.9 577.1 175.8 582.6 L175.4 591.9 Z" fill="#fff" stroke="#6a6a6a" stroke-width="0.8"/>
<path d="M159.6 581.2 Q167.9 575.2 176.2 581.2 L175.8 583.6 Q167.9 578.8 160 583.6 Z" fill="#fff" stroke="#6a6a6a" stroke-width="0.8"/>
</g>
<g transform="rotate(110 242 595.6)">
<path d="M234.5 597.6 L234.1 588.3 Q242 582.8 249.9 588.3 L249.5 597.6 Z" fill="#fff" stroke="#6a6a6a" stroke-width="0.8"/>
<path d="M233.7 586.9 Q242 580.9 250.3 586.9 L249.9 589.3 Q242 584.5 234.1 589.3 Z" fill="#fff" stroke="#6a6a6a" stroke-width="0.8"/>
</g>
<rect x="167.9" y="575.6" width="74.1" height="30.9" fill="#fff" stroke="#555" stroke-width="1" rx="4.6"/>
<path d="M144.15 562.5 C146.4 562.63 147.3 563.14 147.3 564.79 C147.3 566.44 143.4 566.31 142.9 567.46 C142.6 568.22 143.15 568.73 144.15 568.85 C146.4 568.98 147.3 569.49 147.3 571.14 C147.3 572.79 143.4 572.67 142.9 573.81 C142.6 574.57 143.15 575.08 144.15 575.21 C146.4 575.34 147.3 575.84 147.3 577.5 C147.3 579.15 143.4 579.02 142.9 580.17 C142.6 580.93 143.15 581.44 144.15 581.56 C146.4 581.69 147.3 582.2 147.3 583.85 C147.3 585.5 143.4 585.38 142.9 586.52 C142.6 587.28 143.15 587.79 144.15 587.92 C146.4 588.05 147.3 588.55 147.3 590.21 C147.3 591.86 143.4 591.73 142.9 592.87 C142.6 593.64 143.15 594.15 144.15 594.27 C146.4 594.4 147.3 594.91 147.3 596.56 C147.3 598.21 143.4 598.09 142.9 599.23 C142.6 599.99 143.15 600.5 144.15 600.63 C146.4 600.75 147.3 601.26 147.3 602.91 C147.3 604.57 143.4 604.44 142.9 605.58 C142.6 606.35 143.15 606.85 144.15 606.98 C146.4 607.11 147.3 607.62 147.3 609.27 C147.3 610.92 143.4 610.79 142.9 611.94 C142.6 612.7 143.15 613.21 144.15 613.34 C146.4 613.46 147.3 613.97 147.3 615.62 C147.3 617.28 143.4 617.15 142.9 618.29 C142.6 619.06 143.15 619.56 144.15 619.69 C146.4 619.82 147.3 620.33 147.3 621.98 C147.3 623.63 143.4 623.5 142.9 624.65 C142.6 625.41 143.15 625.92 144.15 626.05 C146.4 626.17 147.3 626.68 147.3 628.33 C147.3 629.99 143.4 629.86 142.9 631 C142.6 631.76 143.15 632.27 144.15 632.4" fill="none" stroke="#4c4c4c" stroke-width="1.25" stroke-linecap="round" stroke-linejoin="round"/>
<path d="M146 635.12 C146.13 632.96 146.67 632.1 148.42 632.1 C150.17 632.1 150.03 635.84 151.25 636.32 C152.05 636.61 152.59 636.08 152.72 635.12 C152.86 632.96 153.4 632.1 155.15 632.1 C156.89 632.1 156.76 635.84 157.97 636.32 C158.78 636.61 159.32 636.08 159.45 635.12 C159.58 632.96 160.12 632.1 161.87 632.1 C163.62 632.1 163.48 635.84 164.7 636.32 C165.5 636.61 166.04 636.08 166.17 635.12 C166.31 632.96 166.85 632.1 168.6 632.1 C170.34 632.1 170.21 635.84 171.42 636.32 C172.23 636.61 172.77 636.08 172.9 635.12" fill="none" stroke="#4c4c4c" stroke-width="1.25" stroke-linecap="round" stroke-linejoin="round"/>
<path d="M216.6 635.12 C216.76 632.96 217.39 632.1 219.45 632.1 C221.51 632.1 221.35 635.84 222.78 636.32 C223.73 636.61 224.36 636.08 224.52 635.12 C224.68 632.96 225.31 632.1 227.37 632.1 C229.43 632.1 229.27 635.84 230.7 636.32 C231.65 636.61 232.28 636.08 232.44 635.12 C232.6 632.96 233.23 632.1 235.29 632.1 C237.35 632.1 237.19 635.84 238.62 636.32 C239.57 636.61 240.2 636.08 240.36 635.12 C240.52 632.96 241.15 632.1 243.21 632.1 C245.27 632.1 245.11 635.84 246.54 636.32 C247.49 636.61 248.12 636.08 248.28 635.12 C248.44 632.96 249.07 632.1 251.13 632.1 C253.19 632.1 253.03 635.84 254.46 636.32 C255.41 636.61 256.04 636.08 256.2 635.12" fill="none" stroke="#4c4c4c" stroke-width="1.25" stroke-linecap="round" stroke-linejoin="round"/>
<rect x="296" y="544.3" width="27.2" height="2.2" fill="#fff" stroke="#888" stroke-width="0.5" rx="1"/>
<line x1="297.8" y1="545.4" x2="321.4" y2="545.4" stroke="#444" stroke-width="1.2"/>
<rect x="296" y="598.3" width="27.2" height="2.2" fill="#fff" stroke="#888" stroke-width="0.5" rx="1"/>
<line x1="297.8" y1="599.4" x2="321.4" y2="599.4" stroke="#444" stroke-width="1.2"/>
<rect x="354.6" y="471.9" width="2.2" height="30.1" fill="#fff" stroke="#888" stroke-width="0.5" rx="1"/>
<line x1="355.7" y1="473.7" x2="355.7" y2="500.2" stroke="#444" stroke-width="1.2"/>
<rect x="326.9" y="451.5" width="11.6" height="26" fill="#fff" stroke="#6a6a6a" stroke-width="0.8"/>
<rect x="413.6" y="423.3" width="27.6" height="13" fill="#fff" stroke="#c4c4c4" stroke-width="0.5"/>
<rect x="442" y="423.3" width="28.2" height="11.9" fill="#fff" stroke="#c4c4c4" stroke-width="0.5"/>
<rect x="328.5" y="507.1" width="25.3" height="24.4" fill="#fff" stroke="#6a6a6a" stroke-width="0.8"/>
<line x1="328.5" y1="528.7" x2="353.8" y2="528.7" stroke="#6a6a6a" stroke-width="0.7"/>
<text x="341.2" y="520.8" font-size="6.5" fill="#b9b3aa" text-anchor="middle">x</text>
<rect x="405" y="536" width="19" height="8.6" fill="#fff" stroke="#6a6a6a" stroke-width="0.7"/>
<line x1="405" y1="536.5" x2="424" y2="536.5" stroke="#555" stroke-width="1.3"/>
<path d="M406.4 544.4 L406.4 541 Q414.5 537.4 422.6 541 L422.6 544.4" fill="none" stroke="#6a6a6a" stroke-width="0.6"/>
<rect x="426.3" y="536" width="19.3" height="8.6" fill="#fff" stroke="#6a6a6a" stroke-width="0.7"/>
<line x1="426.3" y1="536.5" x2="445.6" y2="536.5" stroke="#555" stroke-width="1.3"/>
<path d="M427.7 544.4 L427.7 541 Q435.95 537.4 444.2 541 L444.2 544.4" fill="none" stroke="#6a6a6a" stroke-width="0.6"/>
<rect x="447.3" y="536" width="19.2" height="8.6" fill="#fff" stroke="#6a6a6a" stroke-width="0.7"/>
<line x1="447.3" y1="536.5" x2="466.5" y2="536.5" stroke="#555" stroke-width="1.3"/>
<path d="M448.7 544.4 L448.7 541 Q456.9 537.4 465.1 541 L465.1 544.4" fill="none" stroke="#6a6a6a" stroke-width="0.6"/>
<rect x="401.5" y="544.4" width="68.3" height="33.1" fill="#fff" stroke="#6a6a6a" stroke-width="0.8"/>
<path d="M402.9 577 L402.9 555.6 L467.8 555.6 L467.8 577" fill="none" stroke="#6a6a6a" stroke-width="0.8" stroke-dasharray="4.5 3"/>
<line x1="435.6" y1="555.6" x2="435.6" y2="577" stroke="#6a6a6a" stroke-width="0.8" stroke-dasharray="4.5 3"/>
<rect x="327.8" y="616.6" width="142.4" height="20.8" fill="#fff" stroke="#6a6a6a" stroke-width="0.7"/>
<line x1="348.5" y1="616.6" x2="348.5" y2="637.4" stroke="#6a6a6a" stroke-width="0.7"/>
<line x1="370.6" y1="616.6" x2="370.6" y2="637.4" stroke="#6a6a6a" stroke-width="0.7"/>
<line x1="372.3" y1="616.6" x2="372.3" y2="637.4" stroke="#6a6a6a" stroke-width="0.7"/>
<line x1="401" y1="616.6" x2="401" y2="637.4" stroke="#6a6a6a" stroke-width="0.7"/>
<line x1="403.1" y1="616.6" x2="403.1" y2="637.4" stroke="#6a6a6a" stroke-width="0.7"/>
<line x1="427.5" y1="616.6" x2="427.5" y2="637.4" stroke="#6a6a6a" stroke-width="0.7"/>
<line x1="448.8" y1="616.6" x2="448.8" y2="637.4" stroke="#6a6a6a" stroke-width="0.7"/>
<text x="359.9" y="631" font-size="10.3" fill="#6d6a66" text-anchor="middle" textLength="15.6" lengthAdjust="spacingAndGlyphs">ПМ</text>
<line x1="351.6" y1="632.3" x2="368.2" y2="632.3" stroke="#777" stroke-width="0.7"/>
<rect x="373.8" y="618.8" width="26.2" height="15" fill="#fff" stroke="#888" stroke-width="0.8" rx="1"/>
<rect x="375.2" y="620.2" width="10.8" height="12.2" fill="#fff" stroke="#999" stroke-width="0.7" rx="1.5"/>
<rect x="387.8" y="620.2" width="10.8" height="12.2" fill="#fff" stroke="#999" stroke-width="0.7" rx="1.5"/>
<line x1="386.9" y1="618.8" x2="386.9" y2="633.8" stroke="#6a6a6a" stroke-width="0.7"/>
<line x1="386.9" y1="632.2" x2="386.9" y2="637.4" stroke="#555" stroke-width="1.2"/>
<rect x="427.5" y="616.6" width="21.3" height="20.8" fill="#dcdcdc" stroke="#6a6a6a" stroke-width="0.7"/>
<rect x="428.6" y="618.4" width="19" height="17.4" fill="#fff"/>
<text x="438" y="629.5" font-size="7" fill="#8a8e9a" text-anchor="middle">ПГ</text>
<rect x="429.6" y="619.6" width="7.6" height="8" fill="none" stroke="#666" stroke-width="0.6"/>
<line x1="432.13" y1="619.6" x2="432.13" y2="627.6" stroke="#777" stroke-width="0.5"/>
<line x1="429.6" y1="622.27" x2="437.2" y2="622.27" stroke="#777" stroke-width="0.5"/>
<line x1="434.67" y1="619.6" x2="434.67" y2="627.6" stroke="#777" stroke-width="0.5"/>
<line x1="429.6" y1="624.93" x2="437.2" y2="624.93" stroke="#777" stroke-width="0.5"/>
<rect x="430.2" y="629.2" width="6.2" height="6" fill="none" stroke="#666" stroke-width="0.6"/>
<line x1="432.27" y1="629.2" x2="432.27" y2="635.2" stroke="#777" stroke-width="0.5"/>
<line x1="430.2" y1="631.2" x2="436.4" y2="631.2" stroke="#777" stroke-width="0.5"/>
<line x1="434.33" y1="629.2" x2="434.33" y2="635.2" stroke="#777" stroke-width="0.5"/>
<line x1="430.2" y1="633.2" x2="436.4" y2="633.2" stroke="#777" stroke-width="0.5"/>
<rect x="440.6" y="621" width="6.4" height="6.6" fill="none" stroke="#666" stroke-width="0.6"/>
<line x1="442.73" y1="621" x2="442.73" y2="627.6" stroke="#777" stroke-width="0.5"/>
<line x1="440.6" y1="623.2" x2="447" y2="623.2" stroke="#777" stroke-width="0.5"/>
<line x1="444.87" y1="621" x2="444.87" y2="627.6" stroke="#777" stroke-width="0.5"/>
<line x1="440.6" y1="625.4" x2="447" y2="625.4" stroke="#777" stroke-width="0.5"/>
<rect x="440.8" y="629.4" width="6" height="5.2" fill="none" stroke="#666" stroke-width="0.6"/>
<line x1="442.8" y1="629.4" x2="442.8" y2="634.6" stroke="#777" stroke-width="0.5"/>
<line x1="440.8" y1="631.13" x2="446.8" y2="631.13" stroke="#777" stroke-width="0.5"/>
<line x1="444.8" y1="629.4" x2="444.8" y2="634.6" stroke="#777" stroke-width="0.5"/>
<line x1="440.8" y1="632.87" x2="446.8" y2="632.87" stroke="#777" stroke-width="0.5"/>
<path d="M55 101.2 L209.6 101.2 L209.6 164.75" fill="none" stroke="#5c5c5c" stroke-width="0.8"/>
<circle cx="209.6" cy="164.75" r="2.1" fill="#484848"/>
<text x="60.6" y="97.7" font-size="13" fill="#707070">1</text>
<line x1="55" y1="144.5" x2="167" y2="144.5" stroke="#5c5c5c" stroke-width="0.8"/>
<circle cx="167" cy="144.5" r="2.1" fill="#484848"/>
<text x="60.2" y="141" font-size="13" fill="#707070">2</text>
<line x1="55" y1="247.8" x2="150.75" y2="247.8" stroke="#5c5c5c" stroke-width="0.8"/>
<circle cx="150.75" cy="247.8" r="2.1" fill="#484848"/>
<text x="60.2" y="244.3" font-size="13" fill="#707070">3</text>
<line x1="55" y1="307.1" x2="152.25" y2="307.1" stroke="#5c5c5c" stroke-width="0.8"/>
<circle cx="152.25" cy="307.1" r="2.1" fill="#484848"/>
<text x="60.2" y="303.6" font-size="13" fill="#707070">4</text>
<line x1="55" y1="359.75" x2="241.25" y2="359.75" stroke="#5c5c5c" stroke-width="0.8"/>
<circle cx="241.25" cy="359.75" r="2.1" fill="#484848"/>
<text x="60.2" y="356.25" font-size="13" fill="#707070">5</text>
<path d="M55 384.75 L235.4 384.75 L235.4 405" fill="none" stroke="#5c5c5c" stroke-width="0.8"/>
<circle cx="235.4" cy="405" r="2.1" fill="#484848"/>
<text x="60.2" y="381.25" font-size="13" fill="#707070">6</text>
<line x1="55" y1="415.9" x2="218.5" y2="415.9" stroke="#5c5c5c" stroke-width="0.8"/>
<circle cx="218.5" cy="415.9" r="2.1" fill="#484848"/>
<text x="60.2" y="412.4" font-size="13" fill="#707070">7</text>
<line x1="55" y1="435" x2="194.1" y2="435" stroke="#5c5c5c" stroke-width="0.8"/>
<circle cx="194.1" cy="435" r="2.1" fill="#484848"/>
<text x="60.2" y="431.5" font-size="13" fill="#707070">8</text>
<line x1="55" y1="454.4" x2="174.75" y2="454.4" stroke="#5c5c5c" stroke-width="0.8"/>
<circle cx="174.75" cy="454.4" r="2.1" fill="#484848"/>
<text x="60.2" y="450.9" font-size="13" fill="#707070">9</text>
<line x1="55" y1="489.4" x2="216.6" y2="489.4" stroke="#5c5c5c" stroke-width="0.8"/>
<circle cx="216.6" cy="489.4" r="2.1" fill="#484848"/>
<text x="60.2" y="485.9" font-size="13" fill="#707070">10</text>
<line x1="55" y1="531.9" x2="165.6" y2="531.9" stroke="#5c5c5c" stroke-width="0.8"/>
<circle cx="165.6" cy="531.9" r="2.1" fill="#484848"/>
<text x="60.2" y="528.4" font-size="13" fill="#707070">11</text>
<line x1="55" y1="570.9" x2="190.6" y2="570.9" stroke="#5c5c5c" stroke-width="0.8"/>
<circle cx="190.6" cy="570.9" r="2.1" fill="#484848"/>
<text x="60.2" y="567.4" font-size="13" fill="#707070">12</text>
<line x1="55" y1="594.4" x2="205.75" y2="594.4" stroke="#5c5c5c" stroke-width="0.8"/>
<circle cx="205.75" cy="594.4" r="2.1" fill="#484848"/>
<text x="60.2" y="590.9" font-size="13" fill="#707070">13</text>
<path d="M542 81.5 L292.5 81.5 L292.5 163.1" fill="none" stroke="#5c5c5c" stroke-width="0.8"/>
<circle cx="292.5" cy="163.1" r="2.1" fill="#484848"/>
<text x="538.4" y="78" font-size="13" fill="#707070" text-anchor="end">30</text>
<path d="M542 101.2 L370.25 101.2 L370.25 144" fill="none" stroke="#5c5c5c" stroke-width="0.8"/>
<circle cx="370.25" cy="144" r="2.1" fill="#484848"/>
<text x="538.4" y="97.7" font-size="13" fill="#707070" text-anchor="end">29</text>
<line x1="443.75" y1="154.4" x2="542" y2="154.4" stroke="#5c5c5c" stroke-width="0.8"/>
<circle cx="443.75" cy="154.4" r="2.1" fill="#484848"/>
<text x="538.4" y="150.9" font-size="13" fill="#707070" text-anchor="end">28</text>
<path d="M542 181 L350.5 181 L350.5 246.7" fill="none" stroke="#5c5c5c" stroke-width="0.8"/>
<circle cx="350.5" cy="246.7" r="2.1" fill="#484848"/>
<text x="538.4" y="177.5" font-size="13" fill="#707070" text-anchor="end">27</text>
<path d="M542 199.1 L372 199.1 L372 241.9" fill="none" stroke="#5c5c5c" stroke-width="0.8"/>
<circle cx="372" cy="241.9" r="2.1" fill="#484848"/>
<text x="538.4" y="195.6" font-size="13" fill="#707070" text-anchor="end">26</text>
<line x1="430.6" y1="218.1" x2="542" y2="218.1" stroke="#5c5c5c" stroke-width="0.8"/>
<circle cx="430.6" cy="218.1" r="2.1" fill="#484848"/>
<text x="538.4" y="214.6" font-size="13" fill="#707070" text-anchor="end">25</text>
<line x1="443.75" y1="238.8" x2="542" y2="238.8" stroke="#5c5c5c" stroke-width="0.8"/>
<circle cx="443.75" cy="238.8" r="2.1" fill="#484848"/>
<text x="538.4" y="235.3" font-size="13" fill="#707070" text-anchor="end">24</text>
<line x1="393.1" y1="258.5" x2="542" y2="258.5" stroke="#5c5c5c" stroke-width="0.8"/>
<circle cx="393.1" cy="258.5" r="2.1" fill="#484848"/>
<text x="538.4" y="255" font-size="13" fill="#707070" text-anchor="end">23</text>
<path d="M542 296.5 L354.75 296.5 L354.75 349.1" fill="none" stroke="#5c5c5c" stroke-width="0.8"/>
<circle cx="354.75" cy="349.1" r="2.1" fill="#484848"/>
<text x="538.4" y="293" font-size="13" fill="#707070" text-anchor="end">22</text>
<line x1="443.75" y1="313.1" x2="542" y2="313.1" stroke="#5c5c5c" stroke-width="0.8"/>
<circle cx="443.75" cy="313.1" r="2.1" fill="#484848"/>
<text x="538.4" y="309.6" font-size="13" fill="#707070" text-anchor="end">21</text>
<line x1="443.75" y1="331.3" x2="542" y2="331.3" stroke="#5c5c5c" stroke-width="0.8"/>
<circle cx="443.75" cy="331.3" r="2.1" fill="#484848"/>
<text x="538.4" y="327.8" font-size="13" fill="#707070" text-anchor="end">20</text>
<line x1="443.75" y1="358.1" x2="542" y2="358.1" stroke="#5c5c5c" stroke-width="0.8"/>
<circle cx="443.75" cy="358.1" r="2.1" fill="#484848"/>
<text x="538.4" y="354.6" font-size="13" fill="#707070" text-anchor="end">19</text>
<line x1="453.25" y1="430" x2="542" y2="430" stroke="#5c5c5c" stroke-width="0.8"/>
<circle cx="453.25" cy="430" r="2.1" fill="#484848"/>
<text x="538.4" y="426.5" font-size="13" fill="#707070" text-anchor="end">18</text>
<path d="M542 457.5 L426.6 457.5 L426.6 429.8" fill="none" stroke="#5c5c5c" stroke-width="0.8"/>
<circle cx="426.6" cy="429.8" r="2.1" fill="#484848"/>
<text x="538.4" y="454" font-size="13" fill="#707070" text-anchor="end">17</text>
<line x1="453.5" y1="540" x2="542" y2="540" stroke="#5c5c5c" stroke-width="0.8"/>
<circle cx="453.5" cy="540" r="2.1" fill="#484848"/>
<text x="538.4" y="536.5" font-size="13" fill="#707070" text-anchor="end">16</text>
<line x1="453.5" y1="564.4" x2="542" y2="564.4" stroke="#5c5c5c" stroke-width="0.8"/>
<circle cx="453.5" cy="564.4" r="2.1" fill="#484848"/>
<text x="538.4" y="560.9" font-size="13" fill="#707070" text-anchor="end">15</text>
<path d="M542 666 L409 666 L409 627.3" fill="none" stroke="#5c5c5c" stroke-width="0.8"/>
<circle cx="409" cy="627.3" r="2.1" fill="#484848"/>
<text x="538.4" y="662.5" font-size="13" fill="#707070" text-anchor="end">14</text>
<text x="197" y="245.5" font-size="15.2" fill="#404040" textLength="6.2" lengthAdjust="spacingAndGlyphs" stroke="#404040" stroke-width="0.65">6</text>
<text x="204" y="246.1" font-size="10" fill="#9a9a9a" textLength="5.4" lengthAdjust="spacingAndGlyphs">_</text>
<text x="210" y="245.5" font-size="10.2" fill="#555" textLength="33" lengthAdjust="spacingAndGlyphs" stroke="#555" stroke-width="0.3">18,0м²</text>
<text x="297.8" y="213.5" font-size="15.2" fill="#404040" textLength="7.8" lengthAdjust="spacingAndGlyphs" stroke="#404040" stroke-width="0.65">7</text>
<text x="306.4" y="214.1" font-size="10" fill="#9a9a9a" textLength="5.5" lengthAdjust="spacingAndGlyphs">_</text>
<text x="312.5" y="213.5" font-size="10.2" fill="#555" textLength="31.3" lengthAdjust="spacingAndGlyphs" stroke="#555" stroke-width="0.3">17,4м²</text>
<text x="374.4" y="280" font-size="15.2" fill="#404040" textLength="7.5" lengthAdjust="spacingAndGlyphs" stroke="#404040" stroke-width="0.65">8</text>
<text x="382.7" y="280.6" font-size="10" fill="#9a9a9a" textLength="5.3" lengthAdjust="spacingAndGlyphs">_</text>
<text x="388.6" y="280" font-size="10.2" fill="#555" textLength="31.9" lengthAdjust="spacingAndGlyphs" stroke="#555" stroke-width="0.3">11,6м²</text>
<text x="214.8" y="311.9" font-size="15.2" fill="#404040" textLength="6.6" lengthAdjust="spacingAndGlyphs" stroke="#404040" stroke-width="0.65">5</text>
<text x="222.2" y="312.5" font-size="10" fill="#9a9a9a" textLength="5.1" lengthAdjust="spacingAndGlyphs">_</text>
<text x="227.9" y="311.9" font-size="10.2" fill="#555" textLength="26.2" lengthAdjust="spacingAndGlyphs" stroke="#555" stroke-width="0.3">1,6м²</text>
<text x="180.3" y="378.7" font-size="15.2" fill="#404040" textLength="7.2" lengthAdjust="spacingAndGlyphs" stroke="#404040" stroke-width="0.65">4</text>
<text x="188.3" y="379.3" font-size="10" fill="#9a9a9a" textLength="6.9" lengthAdjust="spacingAndGlyphs">_</text>
<text x="195.8" y="378.7" font-size="10.2" fill="#555" textLength="24.7" lengthAdjust="spacingAndGlyphs" stroke="#555" stroke-width="0.3">7,3м²</text>
<text x="364.5" y="404.5" font-size="15.2" fill="#404040" textLength="4.5" lengthAdjust="spacingAndGlyphs" stroke="#404040" stroke-width="0.65">1</text>
<text x="369.8" y="405.1" font-size="10" fill="#9a9a9a" textLength="6.1" lengthAdjust="spacingAndGlyphs">_</text>
<text x="376.5" y="404.5" font-size="10.2" fill="#555" textLength="25.5" lengthAdjust="spacingAndGlyphs" stroke="#555" stroke-width="0.3">7,6м²</text>
<text x="268.8" y="520" font-size="15.2" fill="#404040" textLength="6.7" lengthAdjust="spacingAndGlyphs" stroke="#404040" stroke-width="0.65">3</text>
<text x="276.3" y="520.6" font-size="10" fill="#9a9a9a" textLength="5.6" lengthAdjust="spacingAndGlyphs">_</text>
<text x="282.5" y="520" font-size="10.2" fill="#555" textLength="31.5" lengthAdjust="spacingAndGlyphs" stroke="#555" stroke-width="0.3">31,4м²</text>
<text x="391.9" y="473.8" font-size="15.2" fill="#404040" textLength="6.6" lengthAdjust="spacingAndGlyphs" stroke="#404040" stroke-width="0.65">9</text>
<text x="399.3" y="474.4" font-size="10" fill="#9a9a9a" textLength="4.5" lengthAdjust="spacingAndGlyphs">_</text>
<text x="404.4" y="473.8" font-size="10.2" fill="#555" textLength="26.9" lengthAdjust="spacingAndGlyphs" stroke="#555" stroke-width="0.3">6,9м²</text>
<text x="369.4" y="597.9" font-size="15.2" fill="#404040" textLength="14.4" lengthAdjust="spacingAndGlyphs" stroke="#404040" stroke-width="0.65">10</text>
<text x="384.6" y="598.5" font-size="10" fill="#9a9a9a" textLength="4.8" lengthAdjust="spacingAndGlyphs">_</text>
<text x="390" y="597.9" font-size="10.2" fill="#555" textLength="32.8" lengthAdjust="spacingAndGlyphs" stroke="#555" stroke-width="0.3">14,7м²</text>
<g transform="translate(308.8 360) rotate(-90)">
<text x="0" y="0" font-size="15.2" fill="#404040" textLength="7.2" lengthAdjust="spacingAndGlyphs" stroke="#404040" stroke-width="0.65">2</text>
<text x="8" y="0.6" font-size="10" fill="#9a9a9a" textLength="4.9" lengthAdjust="spacingAndGlyphs">_</text>
<text x="13.5" y="0" font-size="10.2" fill="#555" textLength="27" lengthAdjust="spacingAndGlyphs" stroke="#555" stroke-width="0.3">8,6м²</text>
</g>
<text x="43.6" y="33" font-size="13" fill="#6a6a6a" textLength="172.4" lengthAdjust="spacingAndGlyphs">ПЛАН РОЗТАНОВКИ МЕБЛІВ</text>
<line x1="43.4" y1="34.6" x2="216.2" y2="34.6" stroke="#6a6a6a" stroke-width="0.9"/>
<text x="927.5" y="686.6" font-size="13" fill="#666" textLength="43.1" lengthAdjust="spacingAndGlyphs">ЛИСТ 3</text>
<line x1="927.3" y1="688.2" x2="970.8" y2="688.2" stroke="#666" stroke-width="0.9"/>
<text x="656.75" y="30.75" font-size="8.7" fill="#2a2a2a" textLength="171.25" lengthAdjust="spacingAndGlyphs"><tspan font-weight="bold" fill="#111">1</tspan> - ліжко двоспальне, 2150x1720мм</text>
<text x="656.75" y="45.08" font-size="8.7" fill="#2a2a2a" textLength="202" lengthAdjust="spacingAndGlyphs"><tspan font-weight="bold" fill="#111">2</tspan> - тумбочка приліжкова, 520x460x460мм;</text>
<text x="656.75" y="59.4" font-size="8.7" fill="#2a2a2a" textLength="135" lengthAdjust="spacingAndGlyphs"><tspan font-weight="bold" fill="#111">3</tspan> - комод, 1300x500x700мм;</text>
<text x="656.75" y="73.72" font-size="8.7" fill="#2a2a2a" textLength="166.5" lengthAdjust="spacingAndGlyphs"><tspan font-weight="bold" fill="#111">4</tspan> - шафа-купе, 1740x800x2850мм;</text>
<text x="656.75" y="88.05" font-size="8.7" fill="#2a2a2a" textLength="200.75" lengthAdjust="spacingAndGlyphs"><tspan font-weight="bold" fill="#111">5</tspan> - шафка під умивальник універсальна,</text>
<text x="656.75" y="102.38" font-size="8.7" fill="#2a2a2a" textLength="82.5" lengthAdjust="spacingAndGlyphs">1300x500x750мм;</text>
<text x="656.75" y="116.7" font-size="8.7" fill="#2a2a2a" textLength="204.5" lengthAdjust="spacingAndGlyphs"><tspan font-weight="bold" fill="#111">6</tspan> - шафа універсальна, 640x500x2400мм;</text>
<text x="656.75" y="131.02" font-size="8.7" fill="#2a2a2a" textLength="204.5" lengthAdjust="spacingAndGlyphs"><tspan font-weight="bold" fill="#111">7</tspan> - шафа універсальна, 700x200x2400мм;</text>
<text x="656.75" y="145.35" font-size="8.7" fill="#2a2a2a" textLength="214.5" lengthAdjust="spacingAndGlyphs"><tspan font-weight="bold" fill="#111">8</tspan> - ТВ тумба універсальна, 1800x450x450мм;</text>
<text x="656.75" y="159.67" font-size="8.7" fill="#2a2a2a" textLength="198.75" lengthAdjust="spacingAndGlyphs"><tspan font-weight="bold" fill="#111">9</tspan> - крісло Флорине жовте Mebelmodern;</text>
<text x="656.75" y="174" font-size="8.7" fill="#2a2a2a" textLength="206.25" lengthAdjust="spacingAndGlyphs"><tspan font-weight="bold" fill="#111">10</tspan> -&#160;&#160;журнальний столик, 1100x500x400мм;</text>
<text x="656.75" y="188.32" font-size="8.7" fill="#2a2a2a" textLength="180" lengthAdjust="spacingAndGlyphs"><tspan font-weight="bold" fill="#111">11</tspan> - диван кутовий, 2900x1750x880мм;</text>
<text x="656.75" y="202.65" font-size="8.7" fill="#2a2a2a" textLength="42.5" lengthAdjust="spacingAndGlyphs"><tspan font-weight="bold" fill="#111">12</tspan> - стул;</text>
<text x="656.75" y="216.97" font-size="8.7" fill="#2a2a2a" textLength="223.75" lengthAdjust="spacingAndGlyphs"><tspan font-weight="bold" fill="#111">13</tspan> - стіл обідній розкладний, 1600x850x750мм;</text>
<text x="656.75" y="231.3" font-size="8.7" fill="#2a2a2a" textLength="237" lengthAdjust="spacingAndGlyphs"><tspan font-weight="bold" fill="#111">14</tspan> - кухня пряма універсальна, 4000x600x900мм;</text>
<text x="656.75" y="245.62" font-size="8.7" fill="#2a2a2a" textLength="185.25" lengthAdjust="spacingAndGlyphs"><tspan font-weight="bold" fill="#111">15</tspan> - кухонний острів, 1900x900x900мм;</text>
<text x="656.75" y="259.95" font-size="8.7" fill="#2a2a2a" textLength="186.5" lengthAdjust="spacingAndGlyphs"><tspan font-weight="bold" fill="#111">16</tspan> - стул полубарний, 450x450x690мм;</text>
<text x="656.75" y="274.27" font-size="8.7" fill="#2a2a2a" textLength="198.25" lengthAdjust="spacingAndGlyphs"><tspan font-weight="bold" fill="#111">17</tspan> - пуф універсальний, 800x390x450мм;</text>
<text x="656.75" y="288.6" font-size="8.7" fill="#2a2a2a" textLength="142.5" lengthAdjust="spacingAndGlyphs"><tspan font-weight="bold" fill="#111">18</tspan> - консоль, 800x390x750мм;</text>
<text x="656.75" y="302.93" font-size="8.7" fill="#2a2a2a" textLength="215" lengthAdjust="spacingAndGlyphs"><tspan font-weight="bold" fill="#111">19</tspan> - шафа універсальна, 1600x650x2800мм;</text>
<text x="656.75" y="317.25" font-size="8.7" fill="#2a2a2a" textLength="170.25" lengthAdjust="spacingAndGlyphs"><tspan font-weight="bold" fill="#111">20</tspan> - стіл робочий, 1700x650x750мм;</text>
<text x="656.75" y="331.57" font-size="8.7" fill="#2a2a2a" textLength="42.5" lengthAdjust="spacingAndGlyphs"><tspan font-weight="bold" fill="#111">21</tspan> - стул;</text>
<text x="656.75" y="345.9" font-size="8.7" fill="#2a2a2a" textLength="222" lengthAdjust="spacingAndGlyphs"><tspan font-weight="bold" fill="#111">22</tspan> - диван розкладний, 2160x980-2080x850мм;</text>
<text x="656.75" y="360.22" font-size="8.7" fill="#2a2a2a" textLength="210" lengthAdjust="spacingAndGlyphs"><tspan font-weight="bold" fill="#111">23</tspan> - книжковий стеллаж, 1600x300x2150мм;</text>
<text x="656.75" y="374.55" font-size="8.7" fill="#2a2a2a" textLength="170.25" lengthAdjust="spacingAndGlyphs"><tspan font-weight="bold" fill="#111">24</tspan> - стіл робочий, 2100x650x750мм;</text>
<text x="656.75" y="388.88" font-size="8.7" fill="#2a2a2a" textLength="42.5" lengthAdjust="spacingAndGlyphs"><tspan font-weight="bold" fill="#111">25</tspan> - стул;</text>
<text x="656.75" y="403.2" font-size="8.7" fill="#2a2a2a" textLength="141.25" lengthAdjust="spacingAndGlyphs"><tspan font-weight="bold" fill="#111">26</tspan> - шафа, 600x320x1850мм;</text>
<text x="656.75" y="417.52" font-size="8.7" fill="#2a2a2a" textLength="133.25" lengthAdjust="spacingAndGlyphs"><tspan font-weight="bold" fill="#111">27</tspan> - дзеркало, 800x1850мм;</text>
<text x="656.75" y="431.85" font-size="8.7" fill="#2a2a2a" textLength="149.5" lengthAdjust="spacingAndGlyphs"><tspan font-weight="bold" fill="#111">28</tspan> - дитяче ліжко, 2100x1300мм</text>
<text x="656.75" y="446.17" font-size="8.7" fill="#2a2a2a" textLength="122.5" lengthAdjust="spacingAndGlyphs"><tspan font-weight="bold" fill="#111">29</tspan> - крісло універсальне;</text>
<text x="656.75" y="460.5" font-size="8.7" fill="#2a2a2a" textLength="145.75" lengthAdjust="spacingAndGlyphs"><tspan font-weight="bold" fill="#111">30</tspan> - шафа, 1800x620x2500мм;</text>
<text x="638.75" y="493" font-size="12.8" fill="#444" font-weight="bold" textLength="162.5" lengthAdjust="spacingAndGlyphs">Експлікація приміщень</text>
<line x1="638.5" y1="494.9" x2="801.5" y2="494.9" stroke="#444" stroke-width="1"/>
<text x="594.5" y="518" font-size="9.9" fill="#6b6b6b" textLength="323" lengthAdjust="spacingAndGlyphs"><tspan font-weight="bold" fill="#444">1 -</tspan> хол; <tspan font-weight="bold" fill="#444">2 -</tspan> коридор; <tspan font-weight="bold" fill="#444">3 -</tspan> вітальня/їдальня; <tspan font-weight="bold" fill="#444">4 -</tspan> санвузол великий;</text>
<text x="594.5" y="534.25" font-size="9.9" fill="#6b6b6b" textLength="321" lengthAdjust="spacingAndGlyphs"><tspan font-weight="bold" fill="#444">5 -</tspan> санвузол малий; <tspan font-weight="bold" fill="#444">6 -</tspan> хозяйська спальна кімната; <tspan font-weight="bold" fill="#444">7 -</tspan> дитяча</text>
<text x="594.5" y="551.25" font-size="9.9" fill="#6b6b6b" textLength="321" lengthAdjust="spacingAndGlyphs">спальна кімната; <tspan font-weight="bold" fill="#444">8 -</tspan> гостьова кімната; <tspan font-weight="bold" fill="#444">9 -</tspan> топочна; <tspan font-weight="bold" fill="#444">10 -</tspan> кухня;</text>
<text x="750.5" y="573.75" font-size="10" fill="#444" font-weight="bold" textLength="205.75" lengthAdjust="spacingAndGlyphs">Загальна площа приміщень - 125,10 м²</text>
<text x="615.5" y="655.75" font-size="8" fill="#222" font-weight="bold" textLength="42.5" lengthAdjust="spacingAndGlyphs">Примітки:</text>
<line x1="615.4" y1="657" x2="658.2" y2="657" stroke="#222" stroke-width="0.8"/>
<text x="615.5" y="666.25" font-size="8" fill="#2a2a2a" textLength="240.5" lengthAdjust="spacingAndGlyphs">перед початком робіт всі розміри уточнити за місцем;</text>
<text x="615.5" y="678" font-size="8" fill="#2a2a2a" textLength="193.25" lengthAdjust="spacingAndGlyphs">відкриття дверей дивитись по даному плану.</text>
</svg>
</body></html>
